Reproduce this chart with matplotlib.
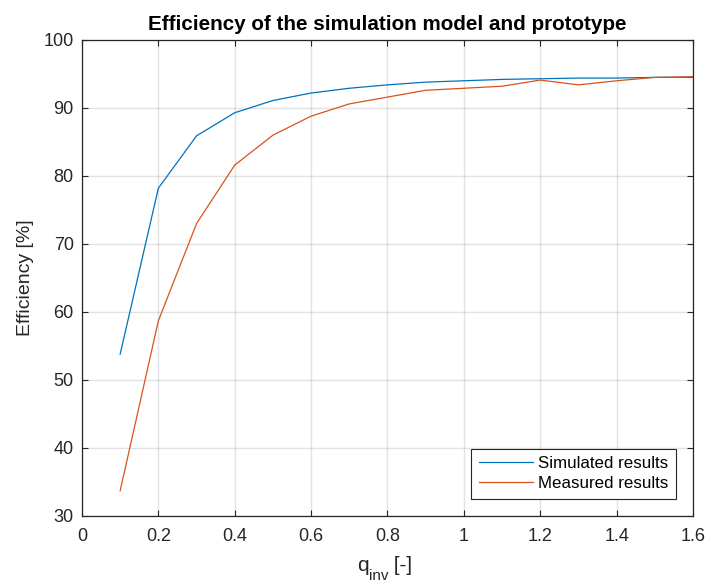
import matplotlib
matplotlib.use("Agg")
import matplotlib.pyplot as plt

q_inv = [0.1, 0.2, 0.3, 0.4, 0.5, 0.6, 0.7, 0.8, 0.9, 1.0, 1.1, 1.2, 1.3, 1.4, 1.5, 1.6]
simulated = [53.8, 78.2, 85.9, 89.3, 91.1, 92.2, 92.9, 93.4, 93.8, 94.0, 94.2, 94.3, 94.4, 94.4, 94.5, 94.5]
measured = [33.7, 58.7, 73.0, 81.6, 86.0, 88.8, 90.6, 91.6, 92.6, 92.9, 93.2, 94.1, 93.4, 94.0, 94.5, 94.6]

xticks = [0, 0.2, 0.4, 0.6, 0.8, 1.0, 1.2, 1.4, 1.6]
xticklabels = ["0", "0.2", "0.4", "0.6", "0.8", "1", "1.2", "1.4", "1.6"]
yticks = [30, 40, 50, 60, 70, 80, 90, 100]

plt.rcParams['font.family'] = ['Liberation Sans', 'DejaVu Sans']

dark = (0.15, 0.15, 0.15)
fig = plt.figure(figsize=(7.06, 5.81), dpi=100)
ax = fig.add_axes([0.1161, 0.1119, 0.8655, 0.8193])

ax.plot(q_inv, simulated, color=(0, 0.447, 0.741), lw=0.9, label="Simulated results")
ax.plot(q_inv, measured, color=(0.85, 0.325, 0.098), lw=0.9, label="Measured results")

ax.set_xlim(0, 1.6)
ax.set_ylim(30, 100)
ax.set_xticks(xticks)
ax.set_xticklabels(xticklabels)
ax.set_yticks(yticks)
ax.grid(True, color=dark, alpha=0.13, lw=1)
ax.tick_params(direction='in', top=True, right=True, labelsize=13, colors=dark, length=4.5)
ax.tick_params(axis='x', pad=9)
ax.tick_params(axis='y', pad=6)
for s in ax.spines.values():
    s.set_color(dark)
    s.set_linewidth(0.9)

ax.set_ylabel("Efficiency [%]", fontsize=14, color=dark, labelpad=7)
ax.set_title("Efficiency of the simulation model and prototype", fontsize=14.9, fontweight='bold', pad=7)

leg = ax.legend(loc='lower right', fontsize=12.2, fancybox=False, framealpha=1,
                edgecolor=dark, handlelength=3.2, borderaxespad=1.0,
                handletextpad=0.3, labelspacing=0.3, borderpad=0.45)
leg.get_frame().set_linewidth(0.8)

# x label with MATLAB-like subscript, laid out piece by piece
W, H = 706, 581
renderer = fig.canvas.get_renderer()
x0 = 357 / W
t1 = fig.text(x0, (H - 571) / H, "q", fontsize=15, color=dark, ha='left', va='baseline')
e1 = t1.get_window_extent(renderer)
t2 = fig.text(e1.x1 / W, (H - 579.5) / H, "inv", fontsize=11, color=dark, ha='left', va='baseline')
e2 = t2.get_window_extent(renderer)
fig.text(e2.x1 / W, (H - 571) / H, " [-]", fontsize=15, color=dark, ha='left', va='baseline')

fig.savefig("out.png", dpi=100)
